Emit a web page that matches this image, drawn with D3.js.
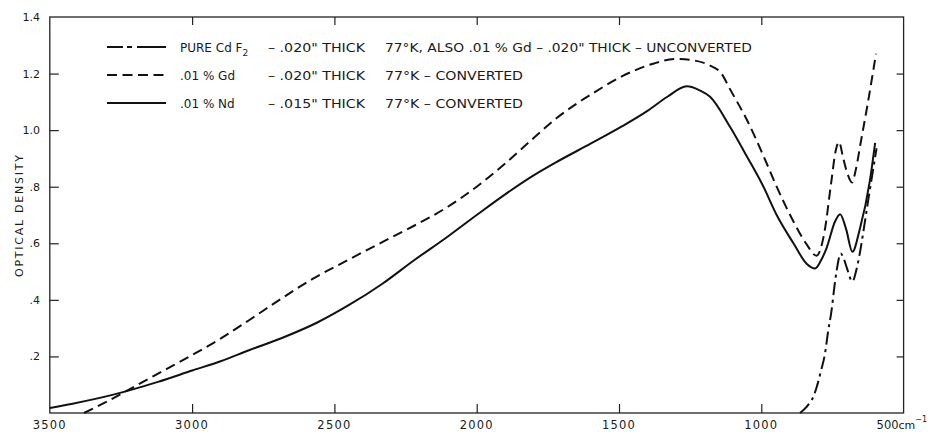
<!DOCTYPE html>
<html>
<head>
<meta charset="utf-8">
<script src="https://cdn.jsdelivr.net/npm/d3@7"></script>
<style>
  html, body { margin: 0; padding: 0; background: #fff; }
  svg { display: block; }
  text { fill: #1a1a1a; font-family: "DejaVu Sans", "Liberation Sans", sans-serif; }
</style>
</head>
<body>
<svg id="chart" width="929" height="432"></svg>
<script>
// Infrared absorption of CdF2 crystals at 77 K: wavenumber (cm^-1) vs optical density

// .01 % Nd, .015" thick, converted (solid)
const ndWave = [3500, 3420, 3280, 3120, 3000, 2900, 2800, 2680, 2560, 2450, 2330, 2220, 2100, 2000, 1900, 1800, 1720, 1600, 1490, 1400, 1330, 1262, 1215, 1180, 1110, 1050, 995, 946, 887, 840, 811, 790, 770, 741, 723, 702, 680, 654, 619, 600];
const ndDensity = [0.018, 0.033, 0.064, 0.110, 0.150, 0.183, 0.222, 0.267, 0.320, 0.381, 0.458, 0.540, 0.625, 0.700, 0.773, 0.840, 0.887, 0.952, 1.013, 1.068, 1.118, 1.155, 1.140, 1.118, 1.012, 0.906, 0.805, 0.700, 0.600, 0.527, 0.511, 0.540, 0.585, 0.677, 0.703, 0.650, 0.570, 0.650, 0.818, 0.955];

// .01 % Gd, .020" thick, converted (dashed)
const gdWave = [3380, 3300, 3200, 3100, 3000, 2900, 2800, 2690, 2575, 2450, 2340, 2220, 2100, 2000, 1900, 1800, 1720, 1650, 1600, 1490, 1380, 1300, 1240, 1180, 1140, 1110, 1050, 995, 946, 887, 840, 806, 778, 755, 738, 727, 712, 700, 681, 668, 650, 625, 597];
const gdDensity = [0.000, 0.040, 0.095, 0.150, 0.205, 0.263, 0.328, 0.402, 0.475, 0.542, 0.600, 0.662, 0.730, 0.800, 0.882, 0.972, 1.042, 1.093, 1.125, 1.190, 1.235, 1.252, 1.247, 1.228, 1.200, 1.145, 1.035, 0.915, 0.800, 0.677, 0.595, 0.556, 0.640, 0.810, 0.930, 0.958, 0.900, 0.855, 0.815, 0.860, 0.960, 1.100, 1.270];

// Pure CdF2 (and unconverted Gd), .020" thick (dash-dot)
const pureWave = [864, 841, 817, 805, 790, 776, 765, 753, 744, 735, 721, 710, 700, 680, 665, 654, 640, 625, 595];
const pureDensity = [0.000, 0.022, 0.058, 0.093, 0.150, 0.211, 0.290, 0.364, 0.440, 0.505, 0.564, 0.545, 0.515, 0.465, 0.510, 0.564, 0.650, 0.748, 0.936];

// Axis ticks and labels
const xTickValues = [3000, 2500, 2000, 1500, 1000];
const xLabelValues = [3500, 3000, 2500, 2000, 1500, 1000];
const xLabelTexts = ["3500", "3000", "2500", "2000", "1500", "1000"];
const yTickValues = [0.2, 0.4, 0.6, 0.8, 1.0, 1.2];
const yLabelValues = [0.2, 0.4, 0.6, 0.8, 1.0, 1.2, 1.4];
const yLabelTexts = [".2", ".4", ".6", ".8", "1.0", "1.2", "1.4"];

// Legend entries
const legendStyles = ["dashdot", "dashed", "solid"];
const legendSample = [
  ["PURE  Cd F", "2", "\u2013 .020\" THICK", "77\u00b0K, ALSO .01 % Gd \u2013 .020\" THICK \u2013 UNCONVERTED"],
  [".01 % Gd", "", "\u2013 .020\" THICK", "77\u00b0K \u2013 CONVERTED"],
  [".01 % Nd", "", "\u2013 .015\" THICK", "77\u00b0K \u2013 CONVERTED"]
];

const svg = d3.select("#chart");
const plotLeft = 49.8, plotRight = 903.6, plotTop = 17, plotBottom = 413;

const x = d3.scaleLinear().domain([3500, 500]).range([plotLeft, plotRight]);
const y = d3.scaleLinear().domain([0, 1.4]).range([plotBottom, plotTop]);

const dash = { solid: null, dashed: "10,5.5", dashdot: "13,4.5,3,4.5" };

// frame
svg.append("rect")
  .attr("x", plotLeft).attr("y", plotTop)
  .attr("width", plotRight - plotLeft).attr("height", plotBottom - plotTop)
  .attr("fill", "none").attr("stroke", "#222").attr("stroke-width", 1.3);

// inward ticks on all four sides
const tickStyle = g => {
  g.select(".domain").remove();
  g.selectAll(".tick line").attr("stroke", "#222").attr("stroke-width", 1.2);
  g.selectAll(".tick text").remove();
};
svg.append("g").attr("transform", `translate(0,${plotBottom})`)
  .call(d3.axisBottom(x).tickValues(xTickValues).tickSize(-9)).call(tickStyle);
svg.append("g").attr("transform", `translate(0,${plotTop})`)
  .call(d3.axisTop(x).tickValues(xTickValues).tickSize(-8)).call(tickStyle);
svg.append("g").attr("transform", `translate(${plotLeft},0)`)
  .call(d3.axisLeft(y).tickValues(yTickValues).tickSize(-9)).call(tickStyle);
svg.append("g").attr("transform", `translate(${plotRight},0)`)
  .call(d3.axisRight(y).tickValues(yTickValues).tickSize(-7)).call(tickStyle);

// x labels
svg.append("g").selectAll("text")
  .data(xLabelValues)
  .join("text")
  .attr("x", d => x(d))
  .attr("y", 428.5)
  .attr("text-anchor", "middle")
  .attr("font-size", 11.5)
  .attr("letter-spacing", 1.2)
  .text((d, i) => xLabelTexts[i]);

const unitLabel = svg.append("text")
  .attr("x", x(500) - 27)
  .attr("y", 428.5)
  .attr("font-size", 11.5);
unitLabel.append("tspan").text("500");
unitLabel.append("tspan").attr("font-size", 11).text("cm");
unitLabel.append("tspan").attr("font-size", 8).attr("dy", -7).text("\u22121");

// y labels
svg.append("g").selectAll("text")
  .data(yLabelValues)
  .join("text")
  .attr("x", 40)
  .attr("y", d => y(d) + 4)
  .attr("text-anchor", "end")
  .attr("font-size", 11)
  .attr("font-family", "'Liberation Sans Narrow', 'DejaVu Sans Condensed', sans-serif")
  .text((d, i) => yLabelTexts[i]);

// y title
svg.append("text")
  .attr("transform", "translate(23,216) rotate(-90)")
  .attr("text-anchor", "middle")
  .attr("font-size", 11)
  .attr("textLength", 122)
  .attr("lengthAdjust", "spacing")
  .text("OPTICAL DENSITY");

// curves
const line = d3.line()
  .x(d => x(d[0]))
  .y(d => y(d[1]))
  .curve(d3.curveMonotoneX);

const series = [
  { wave: gdWave, dens: gdDensity, style: "dashed" },
  { wave: ndWave, dens: ndDensity, style: "solid" },
  { wave: pureWave, dens: pureDensity, style: "dashdot" }
];

svg.append("g").selectAll("path")
  .data(series)
  .join("path")
  .attr("d", s => line(d3.zip(s.wave, s.dens)))
  .attr("fill", "none")
  .attr("stroke", "#111")
  .attr("stroke-width", 2)
  .attr("stroke-linejoin", "round")
  .attr("stroke-dasharray", s => dash[s.style]);

// legend
const legendY = [47, 75, 103];
const leg = svg.append("g");
legendStyles.forEach((st, i) => {
  const yy = legendY[i];
  leg.append("line")
    .attr("x1", 107).attr("x2", 166)
    .attr("y1", yy).attr("y2", yy)
    .attr("stroke", "#111").attr("stroke-width", 2)
    .attr("stroke-dasharray", st === "dashdot" ? "16,4,5,5,40" : dash[st]);
  const [a, sub, b, c] = legendSample[i];
  const t1 = leg.append("text").attr("x", 180).attr("y", yy + 4.5).attr("font-size", 12);
  t1.append("tspan").text(a);
  if (sub) t1.append("tspan").attr("font-size", 9).attr("dy", 4).text(sub);
  leg.append("text").attr("x", 268).attr("y", yy + 4.5).attr("font-size", 12)
    .attr("textLength", 97).attr("lengthAdjust", "spacingAndGlyphs").text(b);
  leg.append("text").attr("x", 385).attr("y", yy + 4.5).attr("font-size", 12)
    .attr("textLength", i === 0 ? 367 : 138).attr("lengthAdjust", "spacingAndGlyphs").text(c);
});
</script>
</body>
</html>
